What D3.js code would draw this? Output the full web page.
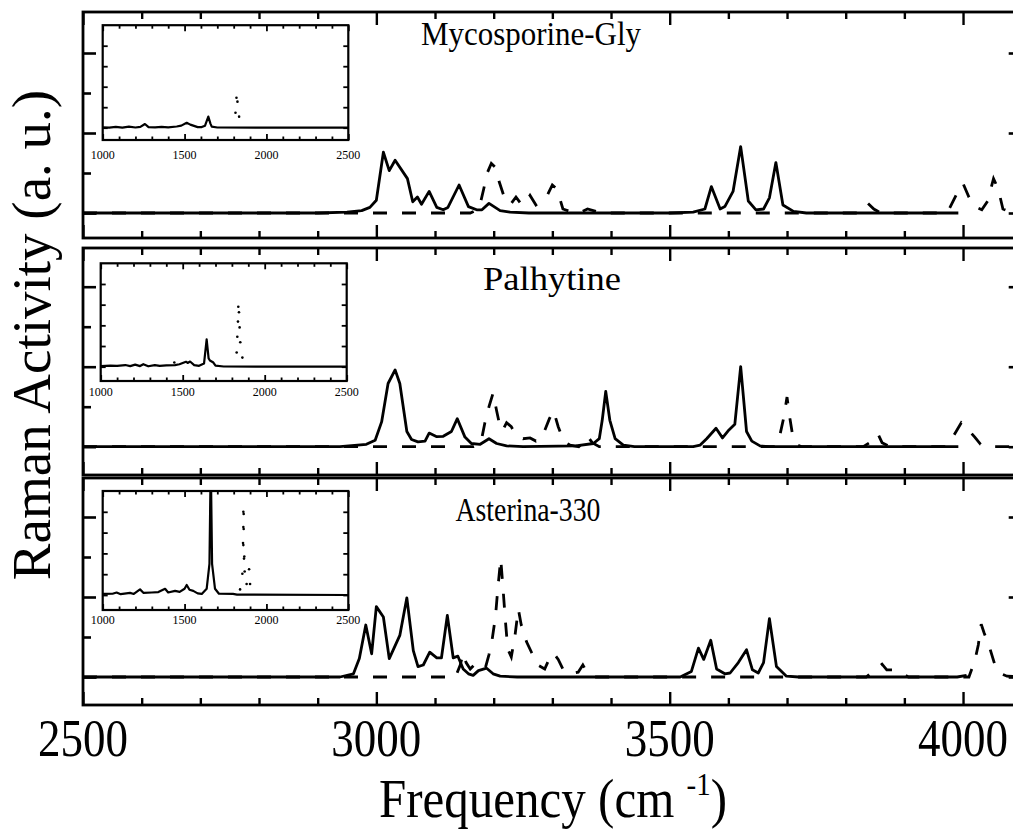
<!DOCTYPE html>
<html><head><meta charset="utf-8">
<script src="https://cdn.jsdelivr.net/npm/d3@7"></script>
<style>body{margin:0;background:#fff}svg{display:block}text{font-family:"Liberation Serif","Times New Roman",serif;fill:#000}</style>
</head><body><svg id="c" width="1013" height="834"></svg>
<script>
// ---------- DATA ----------
const panelNames = ["Mycosporine-Gly", "Palhytine", "Asterina-330"];
const xTickLabels = [2500, 3000, 3500, 4000];
const insetTickLabels = [1000, 1500, 2000, 2500];
const xAxisTitle = "Frequency (cm";
const yAxisTitle = "Raman Activity (a. u.)";

const mycoSolid = [[2500,0],[2900,0],[2950,0.01],[2975,0.03],[2989,0.07],[3000,0.16],[3012,0.76],[3022,0.53],[3032,0.66],[3053,0.43],[3062,0.14],[3070,0.2],[3077,0.11],[3090,0.27],[3103,0.07],[3114,0.04],[3122,0.07],[3141,0.35],[3157,0.08],[3171,0.04],[3180,0.04],[3192,0.12],[3211,0.03],[3228,0.01],[3260,0],[3500,0],[3540,0.01],[3560,0.05],[3571,0.33],[3586,0.05],[3594,0.08],[3608,0.27],[3621,0.83],[3634,0.15],[3647,0.04],[3660,0.05],[3670,0.19],[3681,0.63],[3693,0.1],[3711,0.02],[3733,0],[3992,0]];
const mycoDashed = [[2500,0],[3160,0],[3175,0.05],[3183,0.3],[3189,0.5],[3196,0.62],[3203,0.57],[3209,0.4],[3217,0.22],[3222,0.12],[3230,0.12],[3238,0.2],[3246,0.12],[3252,0.1],[3262,0.22],[3272,0.1],[3290,0.2],[3300,0.35],[3308,0.3],[3318,0.05],[3330,0.02],[3345,0],[3360,0.05],[3375,0.02],[3390,0],[3820,0],[3838,0.12],[3848,0.05],[3860,0],[3960,0],[3975,0.03],[3990,0.25],[4000,0.37],[4010,0.2],[4020,0.08],[4032,0.04],[4042,0.15],[4052,0.43],[4060,0.3],[4068,0.05],[4085,0],[4100,0]];

const palhSolid = [[2500,0],[2938,0],[2983,0.03],[2998,0.08],[3009,0.31],[3020,0.79],[3032,0.96],[3040,0.79],[3052,0.19],[3060,0.09],[3071,0.06],[3083,0.07],[3090,0.17],[3103,0.125],[3114,0.13],[3128,0.19],[3138,0.35],[3151,0.12],[3162,0.04],[3177,0.03],[3192,0.1],[3205,0.04],[3222,0.01],[3250,0],[3340,0.01],[3370,0.04],[3380,0.1],[3385,0.33],[3391,0.69],[3398,0.33],[3407,0.1],[3421,0.02],[3440,0],[3540,0],[3552,0.02],[3563,0.1],[3579,0.23],[3590,0.11],[3601,0.21],[3611,0.28],[3621,1.0],[3631,0.19],[3640,0.07],[3654,0.01],[3670,0],[3992,0]];
const palhDashed = [[2500,0],[3165,0],[3178,0.04],[3185,0.3],[3192,0.5],[3199,0.67],[3205,0.45],[3210,0.28],[3215,0.2],[3222,0.3],[3230,0.25],[3238,0.14],[3250,0.1],[3262,0.11],[3272,0.07],[3282,0.11],[3295,0.35],[3302,0.45],[3310,0.25],[3320,0.06],[3330,0.02],[3345,0],[3352,0.05],[3360,0.13],[3368,0.05],[3380,0],[3680,0],[3688,0.15],[3694,0.35],[3700,0.62],[3705,0.35],[3710,0.12],[3718,0.02],[3725,0],[3830,0],[3845,0.07],[3855,0.16],[3862,0.05],[3875,0],[3970,0],[3985,0.15],[3997,0.3],[4008,0.22],[4020,0.12],[4030,0.03],[4040,0],[4100,0]];

const asteSolid = [[2500,0],[2938,0],[2961,0.04],[2971,0.23],[2982,0.65],[2992,0.29],[3000,0.88],[3012,0.75],[3022,0.23],[3040,0.52],[3052,0.99],[3063,0.33],[3071,0.13],[3080,0.15],[3091,0.31],[3103,0.24],[3111,0.24],[3121,0.77],[3131,0.24],[3139,0.26],[3148,0.1],[3157,0.04],[3165,0.02],[3174,0.08],[3188,0.11],[3199,0.04],[3211,0.01],[3240,0],[3518,0],[3537,0.07],[3549,0.36],[3558,0.22],[3570,0.46],[3580,0.1],[3594,0.04],[3603,0.05],[3617,0.18],[3631,0.34],[3641,0.09],[3651,0.05],[3660,0.18],[3670,0.73],[3682,0.13],[3699,0.01],[3720,0],[3990,0],[4006,0.02]];
const asteDashed = [[2500,0],[3135,0],[3143,0.15],[3148,0.3],[3153,0.18],[3160,0.1],[3168,0.16],[3178,0.1],[3186,0.12],[3192,0.28],[3197,0.45],[3203,0.75],[3207,1.1],[3212,1.48],[3216,1.1],[3220,0.7],[3224,0.35],[3230,0.25],[3236,0.5],[3242,0.85],[3247,0.65],[3256,0.44],[3265,0.3],[3275,0.15],[3287,0.1],[3296,0.25],[3302,0.3],[3310,0.22],[3318,0.1],[3330,0.04],[3344,0.06],[3352,0.15],[3359,0.06],[3370,0],[3835,0],[3848,0.08],[3862,0.16],[3870,0.09],[3880,0.09],[3895,0.05],[3907,0],[4010,0],[4020,0.2],[4026,0.4],[4031,0.66],[4036,0.55],[4046,0.35],[4054,0.16],[4062,0.05],[4075,0.01],[4100,0]];

const mycoInset = [[1000,0.02],[1040,0],[1080,0.04],[1120,0],[1160,0.05],[1200,0.01],[1230,0.04],[1258,0.18],[1280,0.03],[1320,0.02],[1360,0.04],[1400,0.02],[1452,0.06],[1480,0.1],[1513,0.24],[1535,0.15],[1553,0.1],[1580,0.03],[1605,0.03],[1625,0.1],[1645,0.54],[1658,0.2],[1666,0.05],[1700,0.01],[2500,0]];
const palhInset = [[1000,0.03],[1060,0.05],[1100,0.04],[1150,0.08],[1180,0.03],[1210,0.1],[1240,0.03],[1260,0.12],[1290,0.02],[1330,0.08],[1360,0.04],[1400,0.06],[1453,0.08],[1480,0.12],[1520,0.24],[1530,0.18],[1545,0.25],[1570,0.08],[1600,0.04],[1630,0.15],[1646,1.32],[1658,0.4],[1666,0.3],[1687,0.2],[1700,0.05],[1750,0.01],[2500,0]];
const asteInset = [[1000,0.05],[1060,0.06],[1085,0.12],[1110,0.04],[1167,0.1],[1190,0.05],[1228,0.27],[1250,0.1],[1300,0.12],[1340,0.14],[1381,0.3],[1400,0.12],[1442,0.2],[1470,0.15],[1500,0.3],[1513,0.48],[1530,0.25],[1553,0.2],[1580,0.08],[1605,0.05],[1635,0.3],[1652,1.5],[1660,6.5],[1668,1.5],[1686,0.3],[1710,0.06],[1796,0.05],[1820,0.02],[2500,0]];

const mycoInsetDots = [[1817,1.46],[1823,1.27],[1811,0.73],[1833,0.54]];
const palhInsetDots = [[1839,2.9],[1843,2.63],[1837,2.18],[1847,1.9],[1833,1.45],[1851,1.18],[1829,0.69],[1864,0.44],[1449,0.2]];
const asteInsetDots = [[1859,4.0],[1861,3.9],[1859,3.27],[1861,3.17],[1857,2.5],[1859,2.4],[1865,1.85],[1863,1.75],[1853,1.02],[1867,1.13],[1894,1.24],[1839,0.27],[1879,0.53],[1900,0.53]];

// ---------- LAYOUT ----------
const svg = d3.select("#c");
const x = d3.scaleLinear().domain([2500, 4100]).range([83, 1021.7]);
const xMinor = d3.range(2500, 4101, 100);
const xMajor = xMinor.filter(v => v % 500 === 0);

const panels = [
  {name: panelNames[0], top: 12, bottom: 238, base: 213, solid: mycoSolid, dashed: mycoDashed,
   inset: {l: 102.7, t: 25.2, w: 245.6, b: 140, base: 127.7, lab: 159}, insetSolid: mycoInset, dots: mycoInsetDots, title: [531, 45, 220]},
  {name: panelNames[1], top: 248, bottom: 475, base: 446.7, solid: palhSolid, dashed: palhDashed,
   inset: {l: 100.7, t: 263.3, w: 246, b: 381, base: 366.7, lab: 396}, insetSolid: palhInset, dots: palhInsetDots, title: [552, 290, 138]},
  {name: panelNames[2], top: 478, bottom: 705, base: 677, solid: asteSolid, dashed: asteDashed,
   inset: {l: 102.7, t: 491, w: 245.6, b: 610, base: 595, lab: 624}, insetSolid: asteInset, dots: asteInsetDots, title: [528, 521, 145]}
];

const defs = svg.append("defs");

function styleTicks(g, w) {
  g.select(".domain").remove();
  g.selectAll(".tick line").attr("stroke", "#000").attr("stroke-width", w);
  g.selectAll(".tick text").remove();
}

panels.forEach((p, i) => {
  const y = d3.scaleLinear().domain([0, 1]).range([p.base, p.base - 80]);
  const g = svg.append("g");
  const left = x.range()[0], right = x.range()[1];

  defs.append("clipPath").attr("id", "clip" + i).append("rect")
    .attr("x", left).attr("y", p.top).attr("width", right - left).attr("height", p.bottom - p.top);

  const plot = g.append("g").attr("clip-path", `url(#clip${i})`);
  const line = d3.line().x(d => x(d[0])).y(d => y(d[1]));
  plot.append("path").datum(p.dashed).attr("d", line).attr("fill", "none")
    .attr("stroke", "#000").attr("stroke-width", 2.8).attr("stroke-dasharray", "14,15");
  plot.append("path").datum(p.solid).attr("d", line).attr("fill", "none")
    .attr("stroke", "#000").attr("stroke-width", 2.8).attr("stroke-linejoin", "round");

  const yMajor = [0, 1, 2], yMinor = [0.5, 1.5];
  const xm = xMinor.filter(v => v % 500);
  g.append("g").attr("transform", `translate(0,${p.top})`).call(d3.axisTop(x).tickValues(xm).tickSize(-7)).call(s => styleTicks(s, 2.4));
  g.append("g").attr("transform", `translate(0,${p.top})`).call(d3.axisTop(x).tickValues(xMajor).tickSize(-13)).call(s => styleTicks(s, 2.4));
  g.append("g").attr("transform", `translate(0,${p.bottom})`).call(d3.axisBottom(x).tickValues(xm).tickSize(-7)).call(s => styleTicks(s, 2.4));
  g.append("g").attr("transform", `translate(0,${p.bottom})`).call(d3.axisBottom(x).tickValues(xMajor).tickSize(-13)).call(s => styleTicks(s, 2.4));
  g.append("g").attr("transform", `translate(${left},0)`).call(d3.axisLeft(y).tickValues(yMajor).tickSize(-13)).call(s => styleTicks(s, 2.6));
  g.append("g").attr("transform", `translate(${left},0)`).call(d3.axisLeft(y).tickValues(yMinor).tickSize(-8)).call(s => styleTicks(s, 2.6));
  g.append("g").attr("transform", `translate(${right},0)`).call(d3.axisRight(y).tickValues(yMajor).tickSize(-13)).call(s => styleTicks(s, 2.6));
  g.append("g").attr("transform", `translate(${right},0)`).call(d3.axisRight(y).tickValues(yMinor).tickSize(-8)).call(s => styleTicks(s, 2.6));

  g.append("rect").attr("x", left).attr("y", p.top).attr("width", right - left).attr("height", p.bottom - p.top)
    .attr("fill", "none").attr("stroke", "#000").attr("stroke-width", 2.8);

  g.append("text").attr("transform", `translate(${p.title[0]},${p.title[1]}) scale(1,1.12)`)
    .attr("text-anchor", "middle").attr("font-size", 31)
    .attr("textLength", p.title[2]).attr("lengthAdjust", "spacingAndGlyphs").text(p.name);

  // inset
  const I = p.inset;
  const ix = d3.scaleLinear().domain([1000, 2500]).range([I.l, I.l + I.w]);
  const iy = d3.scaleLinear().domain([0, 5]).range([I.base, I.t]);
  const ig = g.append("g");
  ig.append("rect").attr("x", I.l).attr("y", I.t).attr("width", I.w).attr("height", I.b - I.t).attr("fill", "#fff");
  defs.append("clipPath").attr("id", "iclip" + i).append("rect")
    .attr("x", I.l).attr("y", I.t).attr("width", I.w).attr("height", I.b - I.t);
  const ip = ig.append("g").attr("clip-path", `url(#iclip${i})`);
  ip.append("path").datum(p.insetSolid)
    .attr("d", d3.line().x(d => ix(d[0])).y(d => iy(d[1])))
    .attr("fill", "none").attr("stroke", "#000").attr("stroke-width", 2.2).attr("stroke-linejoin", "round");
  ip.selectAll("circle").data(p.dots).join("circle")
    .attr("cx", d => ix(d[0])).attr("cy", d => iy(d[1])).attr("r", 1.3).attr("fill", "#000");

  const iMinor = d3.range(1000, 2501, 100).filter(v => v % 500);
  const iMajor = [1000, 1500, 2000, 2500];
  const iy5 = [0, 1, 2, 3, 4];
  ig.append("g").attr("transform", `translate(0,${I.t})`).call(d3.axisTop(ix).tickValues(iMinor).tickSize(-3.5)).call(s => styleTicks(s, 1.8));
  ig.append("g").attr("transform", `translate(0,${I.t})`).call(d3.axisTop(ix).tickValues(iMajor).tickSize(-6)).call(s => styleTicks(s, 1.8));
  ig.append("g").attr("transform", `translate(0,${I.b})`).call(d3.axisBottom(ix).tickValues(iMinor).tickSize(-3.5)).call(s => styleTicks(s, 1.8));
  ig.append("g").attr("transform", `translate(0,${I.b})`).call(d3.axisBottom(ix).tickValues(iMajor).tickSize(-6)).call(s => styleTicks(s, 1.8));
  ig.append("g").attr("transform", `translate(${I.l},0)`).call(d3.axisLeft(iy).tickValues(iy5).tickSize(-5)).call(s => styleTicks(s, 1.8));
  ig.append("g").attr("transform", `translate(${I.l + I.w},0)`).call(d3.axisRight(iy).tickValues(iy5).tickSize(-5)).call(s => styleTicks(s, 1.8));
  ig.append("rect").attr("x", I.l).attr("y", I.t).attr("width", I.w).attr("height", I.b - I.t)
    .attr("fill", "none").attr("stroke", "#000").attr("stroke-width", 2.2);
  ig.selectAll("text.il").data(insetTickLabels).join("text").attr("class", "il")
    .attr("x", d => ix(d)).attr("y", I.lab).attr("text-anchor", "middle").attr("font-size", 12).text(d => d);
});

svg.selectAll("text.xl").data(xTickLabels).join("text").attr("class", "xl")
  .attr("transform", d => `translate(${x(d)},756) scale(1,1.15)`)
  .attr("text-anchor", "middle").attr("font-size", 45).text(d => d);

const xt = svg.append("text").attr("transform", "translate(553,817) scale(1,1.1)")
  .attr("text-anchor", "middle").attr("font-size", 49);
xt.append("tspan").text(xAxisTitle + " ");
xt.append("tspan").attr("font-size", 29).attr("dy", -20).text("-1");
xt.append("tspan").attr("dy", 20).text(")");

svg.append("text").attr("transform", "translate(50,335) rotate(-90)")
  .attr("text-anchor", "middle").attr("font-size", 55).text(yAxisTitle);
</script></body></html>
